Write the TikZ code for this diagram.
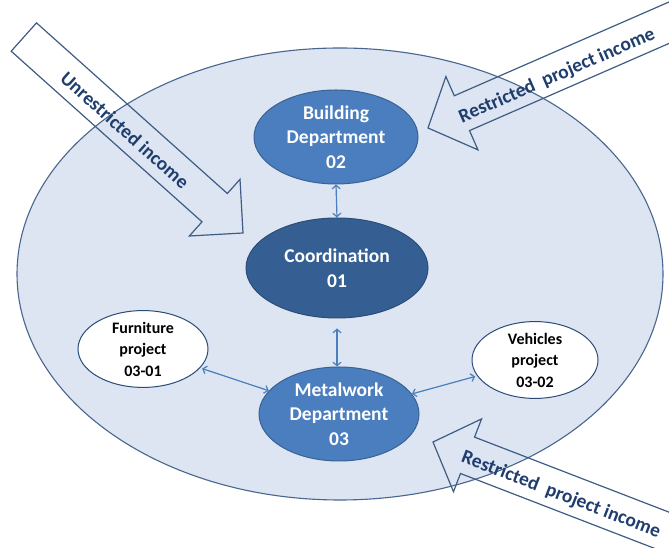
\documentclass[tikz,border=0pt]{standalone}
\usepackage{fontspec}
\setmainfont{Carlito}
\usetikzlibrary{shapes.geometric,arrows.meta}
\definecolor{bgfill}{RGB}{220,229,241}
\definecolor{bgline}{RGB}{72,102,142}
\definecolor{midblue}{RGB}{74,126,190}
\definecolor{midline}{RGB}{58,98,148}
\definecolor{darkblue}{RGB}{53,95,147}
\definecolor{darkline}{RGB}{42,76,120}
\definecolor{conncol}{RGB}{74,126,190}
\definecolor{arrline}{RGB}{62,92,132}
\definecolor{arrtext}{RGB}{31,62,110}
\begin{document}
\begin{tikzpicture}[x=1pt,y=1pt,
  outerell/.style={ellipse, draw=bgline, fill=bgfill, line width=1.1pt, inner sep=0pt},
  dept/.style={ellipse, draw=midline, fill=midblue, line width=1pt, inner sep=0pt,
    text=white, font=\bfseries\fontsize{19.5}{24.5}\selectfont, align=center},
  coord/.style={dept, draw=darkline, fill=darkblue},
  proj/.style={ellipse, draw=darkline, fill=white, line width=1pt, inner sep=0pt,
    text=black, font=\bfseries\fontsize{16}{21.5}\selectfont, align=center},
  conn/.style={draw=conncol, line width=1.2pt, {Straight Barb[length=3.5pt,width=8pt]}-{Straight Barb[length=3.5pt,width=8pt]}},
  barrow/.style={draw=arrline, line width=1.2pt, line join=miter},
  atext/.style={text=arrtext, font=\bfseries\fontsize{19.5}{22}\selectfont, inner sep=0pt}
]
\useasboundingbox (0,0) rectangle (669,548);
\clip (0,0) rectangle (669,548);

% background ellipse
\node[outerell, minimum width=646pt, minimum height=452pt] (outer) at (340,274) {};

% block arrows (outline only)
\begin{scope}[shift={(243,315)}, rotate=-41.8]
  \draw[barrow] (0,0) -- (-38,38) -- (-38,19) -- (-294,19) -- (-294,-19) -- (-38,-19) -- (-38,-38) -- cycle;
\end{scope}
\begin{scope}[shift={(428,420)}, rotate=203.6]
  \draw[barrow] (0,0) -- (-37,40) -- (-37,19) -- (-320,19) -- (-320,-19) -- (-37,-19) -- (-37,-40) -- cycle;
\end{scope}
\begin{scope}[shift={(433,106)}, rotate=158.9]
  \draw[barrow] (0,0) -- (-37,39) -- (-37,19.5) -- (-320,19.5) -- (-320,-19.5) -- (-37,-19.5) -- (-37,-39) -- cycle;
\end{scope}

\node[atext, rotate=-41.8] (t1) at (125,418) {Unrestricted income};
\node[atext, rotate=23.6] (t2) at (557,472) {Restricted\ \ project income};
\node[atext, rotate=-21] (t3) at (561,53) {Restricted\ \ project income};

% nodes
\node[dept, minimum width=164pt, minimum height=94pt] (build) at (336,411) {Building\\Department\\02};
\node[coord, minimum width=182pt, minimum height=100pt] (coordn) at (337,280) {Coordination\\01};
\node[dept, minimum width=160pt, minimum height=94pt] (metal) at (339,134) {Metalwork\\Department\\03};
\node[proj, minimum width=130pt, minimum height=74pt] (furn) at (143,199) {Furniture\\project\\03-01};
\node[proj, minimum width=126pt, minimum height=76pt] (veh) at (535,188) {Vehicles\\project\\03-02};

% connectors
\draw[conn] (build.south) -- (coordn.north);
\draw[conn, shorten <=10pt] (coordn.south) -- (coordn.south |- metal.north);
\draw[conn, shorten <=2pt] (furn) -- (metal);
\draw[conn, shorten >=2pt] (metal) -- (veh);
\end{tikzpicture}
\end{document}
